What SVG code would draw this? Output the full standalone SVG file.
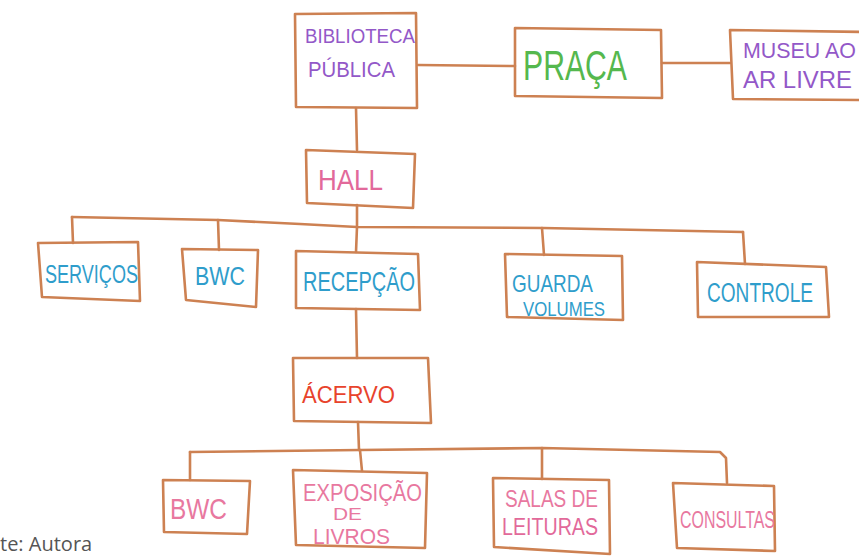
<svg xmlns="http://www.w3.org/2000/svg" width="859" height="556" viewBox="0 0 859 556">
<style>
.box{fill:none;stroke:#cd8152;stroke-width:2.6;stroke-linejoin:round;stroke-linecap:round}
.con{fill:none;stroke:#cd8152;stroke-width:2.6;stroke-linejoin:round;stroke-linecap:round}
text{font-family:"Liberation Sans","DejaVu Sans",sans-serif;font-weight:normal}
.pu{fill:#9358c8}
.gr{fill:#55b84e}
.pk{fill:#e2699a}
.bl{fill:#2f9dcb}
.rd{fill:#e8432c}
.pk2{fill:#e8789f}
.src{font-family:"Open Sans","Liberation Sans",sans-serif;fill:#555;font-size:20px}
</style>
<rect width="859" height="556" fill="#fff"/>
<g id="connectors">
<path class="con" d="M418 65 L515 66"/>
<path class="con" d="M662 63 L730 63"/>
<path class="con" d="M356 108 L357 150"/>
<path class="con" d="M357 205 L357 227"/>
<path class="con" d="M72 217 L218 220 L300 224 L357 227 L543 228 L743 232"/>
<path class="con" d="M72 217 L73 243"/>
<path class="con" d="M218 220 L219 250"/>
<path class="con" d="M357 227 L356 252"/>
<path class="con" d="M542 228 L544 255"/>
<path class="con" d="M743 232 L745 264"/>
<path class="con" d="M356 309 L357 358"/>
<path class="con" d="M358 422 L359 450"/>
<path class="con" d="M190 452 L360 450 L542 448 L720 452 L726 458 L727 483"/>
<path class="con" d="M190 452 L190 480"/>
<path class="con" d="M360 450 L362 471"/>
<path class="con" d="M542 448 L542 479"/>
</g>
<g id="biblioteca">
<path class="box" d="M295 14 L416 13 L417 108 L296 107 Z"/>
<text class="pu" x="305" y="43" font-size="20" textLength="110" lengthAdjust="spacingAndGlyphs">BIBLIOTECA</text>
<text class="pu" x="308" y="77" font-size="22" textLength="87" lengthAdjust="spacingAndGlyphs">PÚBLICA</text>
</g>
<g id="praca">
<path class="box" d="M515 28 L661 30 L662 98 L515 96 Z"/>
<text class="gr" x="523" y="80" font-size="42" textLength="104" lengthAdjust="spacingAndGlyphs">PRAÇA</text>
</g>
<g id="museu">
<path class="box" d="M730 30 L866 32 L866 100 L733 99 Z"/>
<text class="pu" x="743" y="58" font-size="22" textLength="113" lengthAdjust="spacingAndGlyphs">MUSEU AO</text>
<text class="pu" x="743" y="88" font-size="24" textLength="109" lengthAdjust="spacingAndGlyphs">AR LIVRE</text>
</g>
<g id="hall">
<path class="box" d="M306 150 L415 154 L413 208 L307 203 Z"/>
<text class="pk" x="318" y="190" font-size="30" textLength="65" lengthAdjust="spacingAndGlyphs">HALL</text>
</g>
<g id="servicos">
<path class="box" d="M38 243 L138 242 L140 301 L42 297 Z"/>
<text class="bl" x="45" y="283" font-size="26" textLength="93" lengthAdjust="spacingAndGlyphs">SERVIÇOS</text>
</g>
<g id="bwc1">
<path class="box" d="M182 249 L258 250 L256 307 L186 300 Z"/>
<text class="bl" x="195" y="285" font-size="25" textLength="50" lengthAdjust="spacingAndGlyphs">BWC</text>
</g>
<g id="recepcao">
<path class="box" d="M296 251 L418 254 L420 310 L296 308 Z"/>
<text class="bl" x="303" y="291" font-size="28" textLength="112" lengthAdjust="spacingAndGlyphs">RECEPÇÃO</text>
</g>
<g id="guarda">
<path class="box" d="M505 254 L622 256 L623 320 L507 317 Z"/>
<text class="bl" x="512" y="292" font-size="24" textLength="81" lengthAdjust="spacingAndGlyphs">GUARDA</text>
<text class="bl" x="523" y="316" font-size="21" textLength="82" lengthAdjust="spacingAndGlyphs">VOLUMES</text>
</g>
<g id="controle">
<path class="box" d="M697 262 L826 267 L829 317 L698 317 Z"/>
<text class="bl" x="707" y="302" font-size="27" textLength="106" lengthAdjust="spacingAndGlyphs">CONTROLE</text>
</g>
<g id="acervo">
<path class="box" d="M293 358 L428 358 L431 423 L294 421 Z"/>
<text class="rd" x="302" y="403" font-size="24" textLength="93" lengthAdjust="spacingAndGlyphs">ÁCERVO</text>
</g>
<g id="bwc2">
<path class="box" d="M163 480 L250 481 L247 534 L164 532 Z"/>
<text class="pk2" x="170" y="519" font-size="29" textLength="57" lengthAdjust="spacingAndGlyphs">BWC</text>
</g>
<g id="exposicao">
<path class="box" d="M293 470 L427 473 L425 548 L296 545 Z"/>
<text class="pk2" x="303" y="501" font-size="23" textLength="119" lengthAdjust="spacingAndGlyphs">EXPOSIÇÃO</text>
<text class="pk2" x="333" y="520" font-size="17" textLength="29" lengthAdjust="spacingAndGlyphs">DE</text>
<text class="pk2" x="313" y="544" font-size="22" textLength="77" lengthAdjust="spacingAndGlyphs">LIVROS</text>
</g>
<g id="salas">
<path class="box" d="M493 478 L609 480 L610 554 L494 547 Z"/>
<text class="pk2" x="505" y="507" font-size="23" textLength="93" lengthAdjust="spacingAndGlyphs">SALAS DE</text>
<text class="pk" x="502" y="535" font-size="23" textLength="96" lengthAdjust="spacingAndGlyphs">LEITURAS</text>
</g>
<g id="consultas">
<path class="box" d="M673 483 L774 486 L775 551 L677 548 Z"/>
<text class="pk2" x="680" y="528" font-size="24" textLength="95" lengthAdjust="spacingAndGlyphs">CONSULTAS</text>
</g>
<text class="src" x="0" y="551">te: Autora</text>
</svg>
